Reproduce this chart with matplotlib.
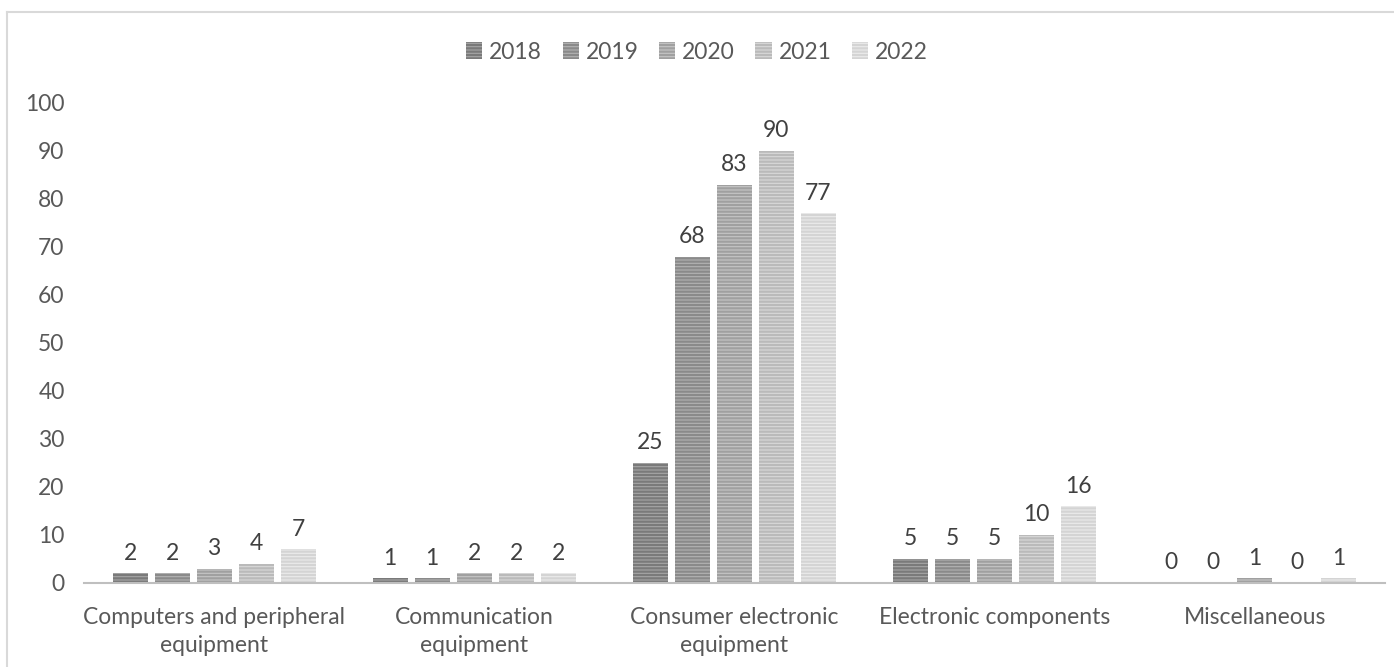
import matplotlib.pyplot as plt
import numpy as np
from matplotlib.lines import Line2D

categories = ["Computers and peripheral\nequipment", "Communication\nequipment",
              "Consumer electronic\nequipment", "Electronic components", "Miscellaneous"]
years = ["2018", "2019", "2020", "2021", "2022"]
values = {
    "2018": [2, 1, 25, 5, 0],
    "2019": [2, 1, 68, 5, 0],
    "2020": [3, 2, 83, 5, 1],
    "2021": [4, 2, 90, 10, 0],
    "2022": [7, 2, 77, 16, 1],
}

face = ["#a6a6a6", "#b3b3b3", "#c6c6c6", "#d9d9d9", "#ebebeb"]
hatchc = ["#7a7a7a", "#8a8a8a", "#a0a0a0", "#bababa", "#d4d4d4"]

plt.rcParams["font.family"] = ["Lato", "DejaVu Sans"]
plt.rcParams["hatch.linewidth"] = 1.6

fig = plt.figure(figsize=(13.94, 6.67), dpi=100)
ax = fig.add_axes([0.0603, 0.126, 0.933, 0.7196])

fs = 16.5
x = np.arange(len(categories))
w = 0.135
pitch = 0.1615
for i, yr in enumerate(years):
    pos = x + (i - 2) * pitch
    ax.bar(pos, values[yr], w, color=face[i], edgecolor=hatchc[i],
           linewidth=0, hatch="-----", label=yr)
    for xb, v in zip(pos, values[yr]):
        ax.text(xb, v + 2.0, str(v), ha="center", va="bottom",
                fontsize=fs, color="#404040")

ax.set_xlim(-0.5, 4.5)
ax.set_ylim(0, 100)
ax.set_yticks(range(0, 101, 10))
ax.set_xticks(x)
ax.set_xticklabels(categories, fontsize=fs, color="#595959", linespacing=1.45)
ax.tick_params(axis="y", length=0, pad=14, labelsize=fs, labelcolor="#595959")
ax.tick_params(axis="x", length=0, pad=17)
for s in ["top", "right", "left"]:
    ax.spines[s].set_visible(False)
ax.spines["bottom"].set_color("#bfbfbf")
ax.spines["bottom"].set_linewidth(1.5)

ax.legend(loc="center", bbox_to_anchor=(0.5, 0.922), bbox_transform=fig.transFigure,
          ncol=5, frameon=False, fontsize=fs, handlelength=0.7, handleheight=0.7,
          handletextpad=0.3, columnspacing=0.9, labelcolor="#595959")

# chart area border (top and left visible)
fig.add_artist(Line2D([7 / 1394, 7 / 1394], [0, 1 - 12 / 667], transform=fig.transFigure,
                      color="#d9d9d9", lw=1.5))
fig.add_artist(Line2D([7 / 1394, 1], [1 - 12 / 667, 1 - 12 / 667], transform=fig.transFigure,
                      color="#d9d9d9", lw=1.5))

fig.savefig("out.png", dpi=100)
